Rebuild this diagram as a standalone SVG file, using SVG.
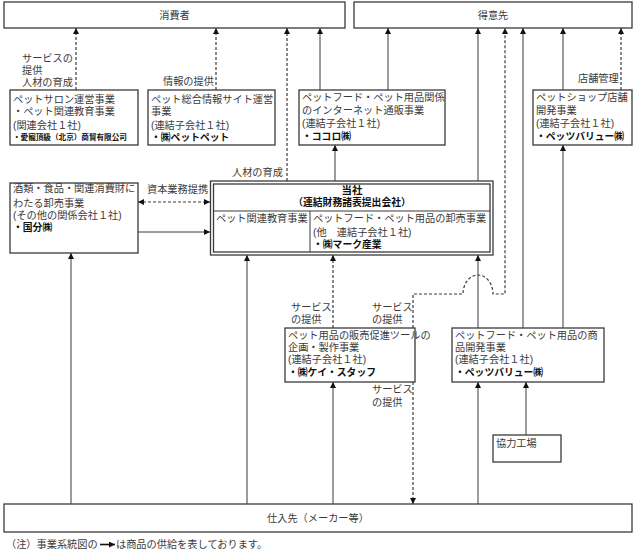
<svg xmlns="http://www.w3.org/2000/svg" width="635" height="559" viewBox="0 0 635 559">
<style>
text{font-family:"Liberation Sans","Noto Sans CJK JP",sans-serif;font-size:10.2px;fill:#3a3a3a}
.b{font-weight:bold;fill:#111;font-size:9.8px}
.sm{font-weight:bold;fill:#111;font-size:7.6px}
.c{text-anchor:middle}
.box{fill:#fff;stroke:#3a3a3a;stroke-width:1.3}
.s{fill:none;stroke:#3a3a3a;stroke-width:1;marker-end:url(#ah)}
.d{fill:none;stroke:#3a3a3a;stroke-width:1.2;stroke-dasharray:3 2;marker-end:url(#ah)}
.ln{fill:none;stroke:#3a3a3a;stroke-width:1}
</style>
<defs>
<marker id="ah" viewBox="0 0 6 6" refX="6" refY="3" markerWidth="6" markerHeight="6" markerUnits="userSpaceOnUse" orient="auto-start-reverse">
<path d="M0,0 L6,3 L0,6 z" fill="#111"/>
</marker>
</defs>
<rect width="635" height="559" fill="#fff"/>

<g id="connectors">
<path class="d" d="M76,90 V28"/>
<path class="d" d="M216,90 V28"/>
<path class="d" d="M287,181 V28"/>
<path class="s" d="M320,90 V28"/>
<path class="s" d="M388,90 V28"/>
<path class="s" d="M335,181 V145"/>
<path class="s" d="M478,181 V28"/>
<path class="d" d="M413,328 V294 H463 A15,19 0 0 1 493,294 H505 V28"/>
<path class="s" d="M523,328 V28"/>
<path class="s" d="M563,90 V28"/>
<path class="d" d="M621,90 V28"/>
<path class="s" d="M563,328 V145"/>
<path class="s" d="M478,328 V255"/>
<path class="d" d="M333,328 V255"/>
<path class="d" d="M138,202 H210" marker-start="url(#ah)"/>
<path class="s" d="M138,232 H210"/>
<path class="s" d="M71,504 V253"/>
<path class="s" d="M247,504 V255"/>
<path class="s" d="M333,504 V382"/>
<path class="d" d="M413,382 V504"/>
<path class="s" d="M478,504 V382"/>
<path class="s" d="M526,435 V382"/>
</g>

<g id="labels">
<text x="22" y="62">サービスの</text>
<text x="22" y="74">提供</text>
<text x="22" y="86">人材の育成</text>
<text x="163" y="85">情報の提供</text>
<text x="232" y="176">人材の育成</text>
<text x="578" y="82">店舗管理</text>
<text x="147" y="193">資本業務提携</text>
<text x="291" y="311">サービス</text>
<text x="291" y="323">の提供</text>
<text x="372" y="311">サービス</text>
<text x="372" y="323">の提供</text>
<text x="372" y="393">サービス</text>
<text x="372" y="406">の提供</text>
</g>

<g id="consumer">
<rect class="box" x="4" y="2" width="341" height="26"/>
<text class="c" x="174.5" y="19">消費者</text>
</g>
<g id="customer">
<rect class="box" x="354" y="2" width="278" height="26"/>
<text class="c" x="493" y="19">得意先</text>
</g>

<g id="salon">
<rect class="box" x="10" y="90" width="128" height="55"/>
<text x="13" y="103">ペットサロン運営事業</text>
<text x="13" y="115"> ・ペット関連教育事業</text>
<text x="13" y="129">(関連会社１社)</text>
<text class="sm" x="13" y="140">・愛寵頂級（北京）商貿有限公司</text>
</g>

<g id="infosite">
<rect class="box" x="148" y="90" width="127" height="55"/>
<text x="151" y="103">ペット総合情報サイト運営</text>
<text x="151" y="115">事業</text>
<text x="151" y="129">(連結子会社１社)</text>
<text class="b" x="151" y="141">・㈱ペットペット</text>
</g>

<g id="cocoro">
<rect class="box" x="299" y="90" width="146" height="55"/>
<text x="302" y="101">ペットフード・ペット用品関係</text>
<text x="302" y="114">のインターネット通販事業</text>
<text x="302" y="127">(連結子会社１社)</text>
<text class="b" x="302" y="140">・ココロ㈱</text>
</g>

<g id="petshop">
<rect class="box" x="533" y="90" width="99" height="55"/>
<text x="536" y="101">ペットショップ店舗</text>
<text x="536" y="114">開発事業</text>
<text x="536" y="127">(連結子会社１社)</text>
<text class="b" x="536" y="140">・ペッツバリュー㈱</text>
</g>

<g id="kokubu">
<rect class="box" x="10" y="183" width="128" height="70"/>
<text x="13" y="192">酒類・食品・関連消費財に</text>
<text x="13" y="207">わたる卸売事業</text>
<text x="13" y="219">(その他の関係会社１社)</text>
<text class="b" x="13" y="231">・国分㈱</text>
</g>

<g id="company">
<rect class="box" x="210.5" y="181" width="282.5" height="74"/>
<rect x="213.5" y="184" width="276.5" height="68" fill="none" stroke="#3a3a3a" stroke-width="1.3"/>
<line class="ln" x1="213.5" y1="211" x2="490" y2="211"/>
<line class="ln" x1="310" y1="211" x2="310" y2="252"/>
<text class="b c" x="352" y="194" style="font-size:10.5px">当社</text>
<text class="b c" x="352" y="206">（連結財務諸表提出会社）</text>
<text x="216" y="222">ペット関連教育事業</text>
<text x="313" y="222">ペットフード・ペット用品の卸売事業</text>
<text x="313" y="236">(他　連結子会社１社)</text>
<text class="b" x="313" y="248">・㈱マーク産業</text>
</g>

<g id="keistaff">
<rect class="box" x="285" y="328" width="130" height="54"/>
<text x="288" y="339">ペット用品の販売促進ツールの</text>
<text x="288" y="351">企画・製作事業</text>
<text x="288" y="363">(連結子会社１社)</text>
<text class="b" x="288" y="376">・㈱ケイ・スタッフ</text>
</g>

<g id="productdev">
<rect class="box" x="452" y="328" width="152" height="54"/>
<text x="455" y="339">ペットフード・ペット用品の商</text>
<text x="455" y="351">品開発事業</text>
<text x="455" y="363">(連結子会社１社)</text>
<text class="b" x="455" y="376">・ペッツバリュー㈱</text>
</g>

<g id="factory">
<rect class="box" x="493" y="435" width="68" height="27"/>
<text x="496" y="447">協力工場</text>
</g>

<g id="supplier">
<rect class="box" x="4" y="504" width="628" height="28"/>
<text class="c" x="318" y="522">仕入先（メーカー等）</text>
</g>

<g id="note">
<text x="6" y="548">（注）事業系統図の</text>
<path d="M100,544.5 H115" fill="none" stroke="#111" stroke-width="1.6" marker-end="url(#ah)"/>
<text x="116" y="548">は商品の供給を表しております。</text>
</g>
</svg>
